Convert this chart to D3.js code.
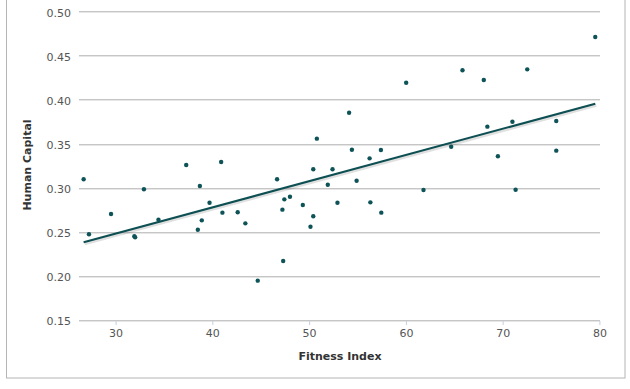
<!DOCTYPE html>
<html>
<head>
<meta charset="utf-8">
<script src="https://cdn.jsdelivr.net/npm/d3@7"></script>
<style>
  html, body { margin: 0; padding: 0; background: #fff; }
  svg { display: block; }
  text { font-family: "DejaVu Sans", Verdana, sans-serif; }
</style>
</head>
<body>
<svg id="chart" width="630" height="389"></svg>
<script>
// ---- data ----
const fitnessIndex = [26.70, 27.25, 29.53, 31.94, 32.02, 32.93, 34.43, 37.30, 38.50, 38.71,
  38.91, 39.71, 40.91, 41.04, 42.62, 43.41, 44.69, 46.69, 47.24, 47.32,
  47.44, 48.02, 49.35, 50.14, 50.43, 50.43, 50.80, 51.93, 52.42, 52.93,
  54.13, 54.42, 54.91, 56.25, 56.33, 57.42, 57.46, 60.03, 61.82, 64.68,
  65.85, 68.05, 68.42, 69.51, 71.01, 71.34, 72.54, 75.54, 75.54, 79.57];
const humanCapital = [0.3095, 0.2472, 0.2702, 0.2449, 0.2438, 0.2982, 0.2637, 0.3257, 0.2524, 0.3019,
  0.2630, 0.2830, 0.3291, 0.2717, 0.2721, 0.2596, 0.1946, 0.3095, 0.2751, 0.2169,
  0.2868, 0.2898, 0.2804, 0.2558, 0.3209, 0.2676, 0.3556, 0.3034, 0.3209, 0.2830,
  0.3850, 0.3431, 0.3079, 0.3333, 0.2834, 0.3427, 0.2717, 0.4190, 0.2974, 0.3465,
  0.4331, 0.4221, 0.3692, 0.3356, 0.3748, 0.2977, 0.4342, 0.3756, 0.3420, 0.4709];
const trendX = [26.70, 79.57];
const trendY = [0.2381, 0.3952];
const xTicks = [30, 40, 50, 60, 70, 80];
const yTicks = [0.15, 0.20, 0.25, 0.30, 0.35, 0.40, 0.45, 0.50];
const xTitle = "Fitness Index";
const yTitle = "Human Capital";

// ---- layout ----
const svg = d3.select("#chart");
const x = d3.scaleLinear().domain([26.22, 80.06]).range([79, 600]);
const y = d3.scaleLinear().domain([0.15, 0.50]).range([320, 11.3]);

// frame
svg.append("rect")
  .attr("x", 6.5).attr("y", -2).attr("width", 618.5).attr("height", 380)
  .attr("fill", "none").attr("stroke", "#b4b4b4").attr("stroke-width", 1);

// gridlines
const grid = svg.append("g");
yTicks.forEach(v => {
  grid.append("line")
    .attr("x1", 79).attr("x2", 600)
    .attr("y1", Math.round(y(v)) + 1.5).attr("y2", Math.round(y(v)) + 1.5)
    .attr("stroke", "#e6e6e6").attr("stroke-width", 1);
  grid.append("line")
    .attr("x1", 79).attr("x2", 600)
    .attr("y1", Math.round(y(v)) + 0.5).attr("y2", Math.round(y(v)) + 0.5)
    .attr("stroke", "#c6c6c6").attr("stroke-width", 1);
});

// y axis labels
const yAxis = d3.axisLeft(y).tickValues(yTicks).tickFormat(d3.format(".2f")).tickSize(0).tickPadding(0);
const gy = svg.append("g").attr("transform", "translate(71,0.5)").call(yAxis);
gy.select(".domain").remove();
gy.selectAll("text").attr("font-size", 11).attr("fill", "#555").attr("font-family", "DejaVu Sans").attr("dy", "0.4em");

// x axis
const xAxis = d3.axisBottom(x).tickValues(xTicks).tickFormat(d3.format("d")).tickSize(4).tickPadding(4);
const gx = svg.append("g").attr("transform", "translate(0,321)").call(xAxis);
gx.select(".domain").remove();
gx.selectAll("line").attr("stroke", "#c0d0e0");
gx.selectAll("text").attr("font-size", 11).attr("fill", "#555").attr("font-family", "DejaVu Sans");

// axis titles
svg.append("text")
  .attr("x", 340).attr("y", 360)
  .attr("text-anchor", "middle")
  .attr("font-size", 11).attr("font-weight", "bold").attr("fill", "#333")
  .text(xTitle);
svg.append("text")
  .attr("transform", "translate(31,165) rotate(-90)")
  .attr("text-anchor", "middle")
  .attr("font-size", 11).attr("font-weight", "bold").attr("fill", "#333")
  .text(yTitle);

// trend line with soft shadow
const line = d3.line().x(d => x(d[0])).y(d => y(d[1]));
const trend = d3.zip(trendX, trendY);
svg.append("path").datum(trend).attr("d", line)
  .attr("transform", "translate(1,1.5)")
  .attr("fill", "none").attr("stroke", "#000").attr("stroke-opacity", 0.12).attr("stroke-width", 3);
svg.append("path").datum(trend).attr("d", line)
  .attr("fill", "none").attr("stroke", "#0d4f52").attr("stroke-width", 2);

// points
svg.append("g").selectAll("circle")
  .data(d3.zip(fitnessIndex, humanCapital))
  .join("circle")
  .attr("cx", d => x(d[0]))
  .attr("cy", d => y(d[1]))
  .attr("r", 2.2)
  .attr("fill", "#0d5357");
</script>
</body>
</html>
